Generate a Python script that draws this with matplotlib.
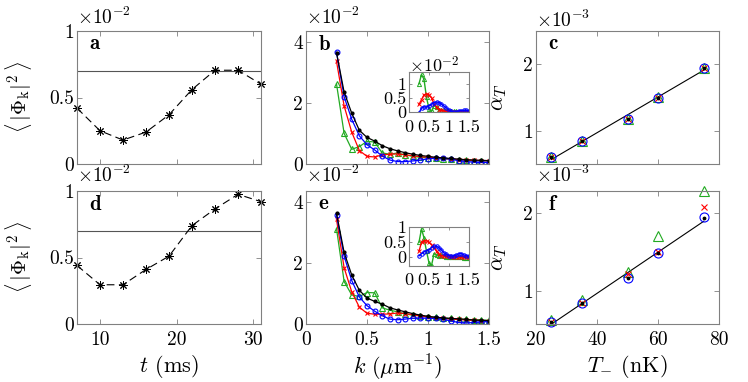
import numpy as np
import matplotlib
matplotlib.use('Agg')
import matplotlib.pyplot as plt

plt.rcParams['mathtext.fontset'] = 'cm'
plt.rcParams['font.family'] = ['cmr10', 'DejaVu Serif']
plt.rcParams['axes.formatter.use_mathtext'] = True

# ---------------- data ----------------
t_ms = [7, 10, 13, 16, 19, 22, 25, 28, 31]
phi_a = [0.42, 0.25, 0.18, 0.24, 0.37, 0.56, 0.705, 0.705, 0.60]
phi_d = [0.44, 0.295, 0.295, 0.41, 0.51, 0.74, 0.865, 0.975, 0.92]
threshold = 0.70

k_vals = [0.25, 0.3125, 0.375, 0.4375, 0.5, 0.5625, 0.625, 0.6875, 0.75, 0.8125,
          0.875, 0.9375, 1.0, 1.0625, 1.125, 1.1875, 1.25, 1.3125, 1.375, 1.4375, 1.5]

black_b = [3.64, 2.35, 1.66, 1.10, 0.87, 0.75, 0.60, 0.50, 0.43, 0.37, 0.32, 0.28,
           0.25, 0.22, 0.20, 0.18, 0.16, 0.14, 0.13, 0.12, 0.11]
blue_b = [3.66, 2.20, 1.46, 0.92, 0.63, 0.46, 0.26, 0.13, 0.08, 0.08, 0.10, 0.13,
          0.17, 0.19, 0.20, 0.16, 0.11, 0.08, 0.06, 0.05, 0.05]
red_b = [3.36, 1.90, 1.04, 0.44, 0.25, 0.23, 0.30, 0.32, 0.33, 0.30, 0.27, 0.24,
         0.22, 0.20, 0.18, 0.16, 0.14, 0.13, 0.12, 0.11, 0.10]
green_b = [2.62, 1.00, 0.48, 0.57, 0.74, 0.72, 0.36, 0.32, 0.36, 0.30, 0.25, 0.22,
           0.20, 0.18, 0.17, 0.15, 0.14, 0.12, 0.11, 0.10, 0.10]

black_e = [3.62, 2.34, 1.60, 1.10, 0.85, 0.74, 0.65, 0.53, 0.46, 0.40, 0.34, 0.29,
           0.25, 0.22, 0.20, 0.18, 0.17, 0.15, 0.13, 0.12, 0.11]
blue_e = [3.57, 2.22, 1.42, 0.88, 0.60, 0.42, 0.27, 0.16, 0.14, 0.16, 0.19, 0.19,
          0.19, 0.18, 0.15, 0.10, 0.05, 0.03, 0.05, 0.07, 0.08]
red_e = [3.42, 1.84, 1.05, 0.55, 0.35, 0.32, 0.32, 0.33, 0.36, 0.34, 0.30, 0.26,
         0.22, 0.20, 0.18, 0.16, 0.15, 0.13, 0.12, 0.11, 0.10]
green_e = [3.12, 1.39, 0.95, 0.90, 1.03, 1.02, 0.53, 0.45, 0.40, 0.33, 0.29, 0.27,
           0.24, 0.22, 0.20, 0.18, 0.16, 0.15, 0.14, 0.13, 0.12]

T_nK = [25, 35, 50, 60, 75]
black_c = [0.60, 0.84, 1.17, 1.50, 1.95]
blue_c = [0.60, 0.84, 1.17, 1.50, 1.95]
red_c = [0.60, 0.84, 1.17, 1.50, 1.95]
green_c = [0.61, 0.85, 1.17, 1.51, 1.95]
black_f = [0.60, 0.84, 1.16, 1.49, 1.94]
blue_f = [0.60, 0.84, 1.16, 1.49, 1.95]
red_f = [0.60, 0.84, 1.22, 1.50, 2.08]
green_f = [0.62, 0.88, 1.24, 1.71, 2.29]

# ---------------- style ----------------
W, H = 748, 382
SP = '#808080'
GREEN = '#22aa22'
FS = 14


def frac(l, r, t, b):
    return [l / W, (H - b) / H, (r - l) / W, (b - t) / H]


def style(ax, fs=FS):
    for s in ax.spines.values():
        s.set_color(SP)
        s.set_linewidth(0.8)
    ax.tick_params(direction='in', top=True, right=True, length=3.5, width=0.6,
                   colors=SP, labelcolor='black', labelsize=fs, pad=2)
    ax.tick_params(axis='x', pad=5)


def scale(ax, exp, y=1.1, fs=FS):
    ax.text(0.0, y, r'$\times10^{%d}$' % exp, transform=ax.transAxes,
            fontsize=fs, ha='left', va='center')


def plabel(ax, s):
    ax.text(0.065, 0.9, r'$\mathbf{%s}$' % s, transform=ax.transAxes,
            fontsize=FS + 1, ha='left', va='center')


fig = plt.figure(figsize=(W / 100, H / 100), dpi=100)

# ---------- a / d ----------
for lab, top, bot, data, sy in [('a', 31, 164, phi_a, 1.1), ('d', 191, 324, phi_d, 1.12)]:
    ax = fig.add_axes(frac(77, 261, top, bot))
    style(ax)
    ax.axhline(threshold, color='#555555', lw=0.8)
    ax.plot(t_ms, data, color='black', lw=0.8, ls=(0, (7, 4)), marker=(8, 2, 0),
            ms=6, mew=0.7, clip_on=False)
    ax.set_xlim(7, 31)
    ax.set_ylim(0, 1)
    ax.set_yticks([0, 0.5, 1], ['0', '0.5', '1'])
    ax.set_xticks([10, 20, 30], ['10', '20', '30'])
    if lab == 'a':
        ax.tick_params(axis='x', labelbottom=False)
    else:
        ax.set_xlabel(r'$t$ (ms)', fontsize=FS + 2, labelpad=3)
    ax.set_ylabel(r'$\langle\,|\Phi_{\rm k}|^2\,\rangle$', fontsize=FS + 1)
    ax.yaxis.set_label_coords(-0.235, 0.5)
    scale(ax, -2, sy)
    plabel(ax, lab)

# ---------- b / e ----------
for lab, top, bot, bk, bl, rd, gr, itop, ibot, ylo, yhi in [
        ('b', 31, 164, black_b, blue_b, red_b, green_b, 71.7, 112.3, 0, 1.45),
        ('e', 191, 324, black_e, blue_e, red_e, green_e, 227.3, 266, -0.29, 1.0)]:
    ax = fig.add_axes(frac(306, 489, top, bot))
    style(ax)
    ax.plot(k_vals, gr, color=GREEN, lw=0.9, marker='^', ms=4, mfc='none', mew=0.8)
    ax.plot(k_vals, rd, color='red', lw=0.9, marker='x', ms=3.5, mew=0.8)
    ax.plot(k_vals, bl, color='blue', lw=0.9, marker='o', ms=3.5, mfc='none', mew=0.8)
    ax.plot(k_vals, bk, color='black', lw=0.9, marker='.', ms=4)
    ax.set_xlim(0, 1.5)
    ax.set_ylim(0, 4.35)
    ax.set_yticks([0, 2, 4], ['0', '2', '4'])
    ax.set_xticks([0, 0.5, 1, 1.5], ['0', '0.5', '1', '1.5'])
    if lab == 'b':
        ax.tick_params(axis='x', labelbottom=False)
    else:
        ax.set_xlabel(r'$k\ (\mu{\rm m}^{-1})$', fontsize=FS + 2, labelpad=3)
    scale(ax, -2, 1.1 if lab == 'b' else 1.12)
    plabel(ax, lab)

    ins = fig.add_axes(frac(409, 469, itop, ibot))
    style(ins, fs=FS - 1)
    kk = np.array(k_vals)
    bk_arr = np.array(bk)
    ins.plot(kk, bk_arr - np.array(gr), color=GREEN, lw=1, marker='^', ms=3, mfc='none', mew=0.7)
    ins.plot(kk, bk_arr - np.array(rd), color='red', lw=1, marker='x', ms=2.5, mew=0.7)
    ins.plot(kk, bk_arr - np.array(bl), color='blue', lw=1, marker='o', ms=2.5, mfc='none', mew=0.7)
    ins.set_xlim(0, 1.5)
    ins.set_ylim(ylo, yhi)
    ins.set_yticks([0, 0.5, 1], ['0', '0.5', '1'])
    ins.set_xticks([0, 0.5, 1, 1.5], ['0', '0.5', '1', '1.5'])
    ins.tick_params(length=2.5)
    if lab == 'b':
        scale(ins, -2, 1.15, fs=FS - 1)

# ---------- c / f ----------
for lab, top, bot, bk, bl, rd, gr, ylim in [
        ('c', 31, 164, black_c, blue_c, red_c, green_c, (0.5, 2.5)),
        ('f', 191, 324, black_f, blue_f, red_f, green_f, (0.57, 2.29))]:
    ax = fig.add_axes(frac(536, 719, top, bot))
    style(ax)
    slope, icpt = np.polyfit(T_nK, bk, 1)
    Tl = np.array([T_nK[0], T_nK[-1]])
    ax.plot(Tl, slope * Tl + icpt, color='black', lw=0.8)
    ax.plot(T_nK, gr, ls='none', color=GREEN, marker='^', ms=7, mfc='none', mew=0.8, clip_on=False)
    ax.plot(T_nK, bl, ls='none', color='blue', marker='o', ms=6.5, mfc='none', mew=0.8, clip_on=False)
    ax.plot(T_nK, rd, ls='none', color='red', marker='x', ms=4, mew=0.8, clip_on=False)
    ax.plot(T_nK, bk, ls='none', color='black', marker='.', ms=3.5, clip_on=False)
    ax.set_xlim(20, 80)
    ax.set_ylim(*ylim)
    ax.set_yticks([1, 2], ['1', '2'])
    ax.set_xticks([20, 40, 60, 80], ['20', '40', '60', '80'])
    if lab == 'c':
        ax.tick_params(axis='x', labelbottom=False)
    else:
        ax.set_xlabel(r'$T_{-}$ (nK)', fontsize=FS + 2, labelpad=3)
    ax.set_ylabel(r'$\alpha_T$', fontsize=FS + 2)
    ax.yaxis.set_label_coords(-0.145, 0.5)
    scale(ax, -3, 1.08 if lab == 'c' else 1.12)
    plabel(ax, lab)

fig.savefig('out.png', dpi=100)
